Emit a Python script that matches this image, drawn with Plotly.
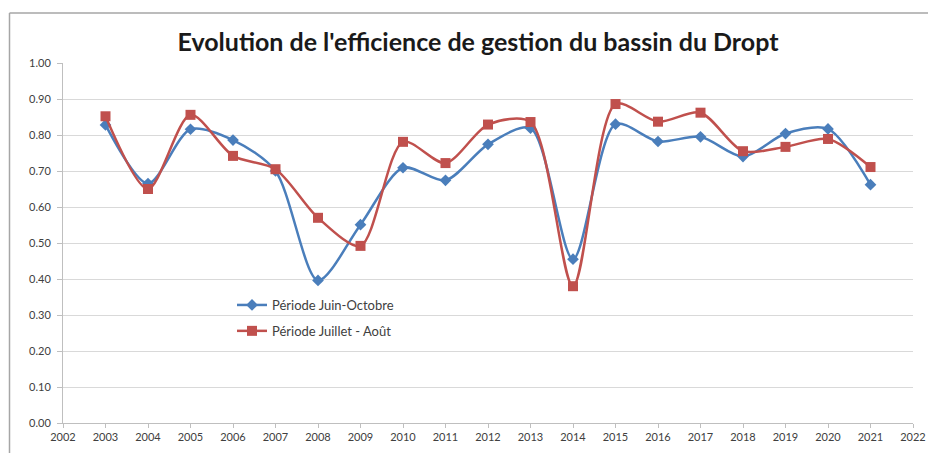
import plotly.graph_objects as go

years = list(range(2003, 2022))
juin_octobre = [0.828, 0.665, 0.816, 0.786, 0.700, 0.396, 0.551, 0.709, 0.674, 0.774, 0.819,
                0.455, 0.830, 0.782, 0.795, 0.740, 0.804, 0.817, 0.662]
juillet_aout = [0.852, 0.650, 0.856, 0.742, 0.705, 0.570, 0.492, 0.781, 0.722, 0.829, 0.836,
                0.380, 0.886, 0.837, 0.862, 0.755, 0.767, 0.789, 0.711]
x_ticks = list(range(2002, 2023))
y_ticks = [i / 10 for i in range(11)]

fig = go.Figure()
fig.add_trace(go.Scatter(
    x=years, y=juin_octobre, name="Période Juin-Octobre",
    mode="lines+markers", legendgroup="a",
    line=dict(color="#4A7EBB", width=2.5, shape="spline", smoothing=0.8),
    marker=dict(symbol="diamond", size=9, color="#4A7EBB"),
))
fig.add_trace(go.Scatter(
    x=years, y=juillet_aout, name="Période Juillet - Août",
    mode="lines+markers", legendgroup="b",
    line=dict(color="#C0504D", width=2.5, shape="spline", smoothing=0.8),
    marker=dict(symbol="square", size=10, color="#C0504D"),
))

OFF = 8  # page body margin
W, H = 936 - OFF, 453 - OFF
# plot area in screenshot pixels
PL, PR, PT, PB = 63, 913, 63, 423
L, R, T, B = PL - OFF, W - (PR - OFF), PT - OFF, H - (PB - OFF)
pw, ph = PR - PL, PB - PT

def px_x(p):
    return (p - PL) / pw

def px_y(p):
    return (PB - p) / ph

frame = dict(color="#A6A6A6", width=1.5)

fig.update_layout(
    width=W, height=H,
    margin=dict(l=L, r=R, t=T, b=B, autoexpand=False),
    paper_bgcolor="white", plot_bgcolor="white",
    title=dict(text="<b>Evolution de l'efficience de gestion du bassin du Dropt</b>",
               x=px_x(478), xref="paper", xanchor="center", y=1 - (42 - OFF) / H, yanchor="middle",
               font=dict(family="Lato", size=25, color="#1a1a1a")),
    showlegend=True,
    legend=dict(x=px_x(232), y=px_y(290), xanchor="left", yanchor="top",
                bgcolor="rgba(0,0,0,0)", traceorder="grouped", tracegroupgap=6,
                font=dict(family="Lato", size=13, color="#404040"), itemwidth=30),
    xaxis=dict(range=[2002, 2022], tickvals=x_ticks, ticktext=[str(v) for v in x_ticks],
               showgrid=False, showline=True, linecolor="#BFBFBF", linewidth=1,
               ticks="outside", ticklen=4, tickcolor="#BFBFBF",
               tickfont=dict(family="Lato", size=11, color="#404040"), zeroline=False),
    yaxis=dict(range=[0, 1], tickvals=y_ticks, ticktext=[f"{v:.2f}" for v in y_ticks],
               showgrid=True, gridcolor="#D9D9D9", gridwidth=1,
               showline=True, linecolor="#BFBFBF", linewidth=1,
               ticks="outside", ticklen=5, tickcolor="#BFBFBF", ticklabelstandoff=4,
               tickfont=dict(family="Lato", size=11, color="#404040"), zeroline=False),
    shapes=[
        dict(type="line", xref="paper", yref="paper",
             x0=px_x(9.5), x1=px_x(936), y0=px_y(13), y1=px_y(13), line=frame, layer="below"),
        dict(type="line", xref="paper", yref="paper",
             x0=px_x(9.5), x1=px_x(9.5), y0=px_y(13), y1=px_y(453), line=frame, layer="below"),
    ],
)

fig.write_html("out.html")
